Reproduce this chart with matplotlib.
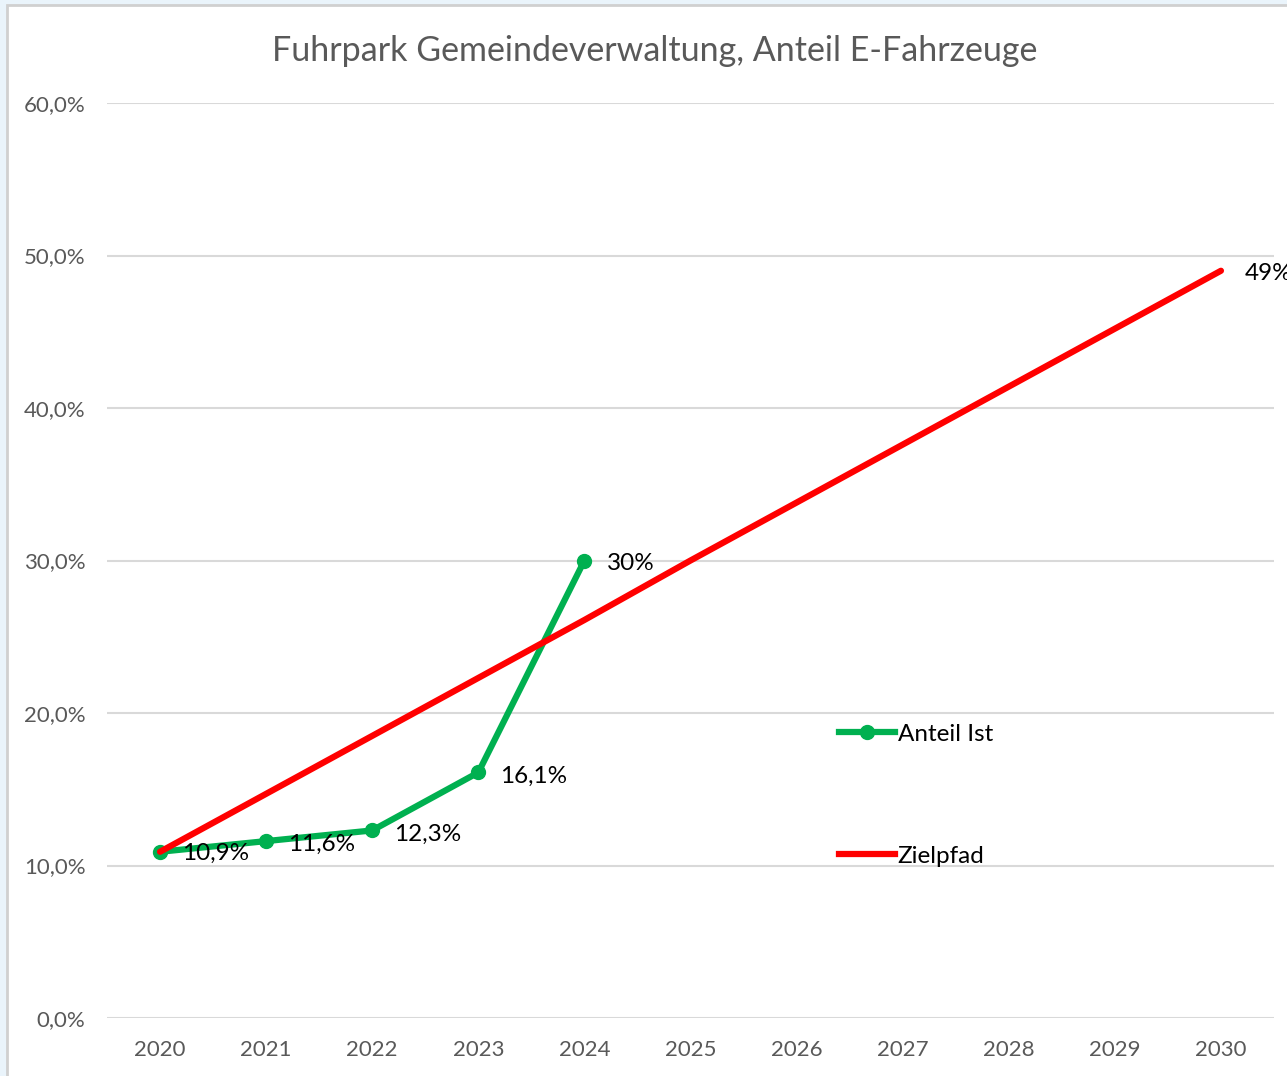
import matplotlib
matplotlib.use("Agg")
import matplotlib.pyplot as plt
from matplotlib.patches import Rectangle
from matplotlib.lines import Line2D

plt.rcParams['font.family'] = ['Lato', 'DejaVu Sans']

years = ["2020", "2021", "2022", "2023", "2024", "2025", "2026", "2027", "2028", "2029", "2030"]
ist_values = [10.9, 11.6, 12.3, 16.1, 30.0]
ist_labels = ["10,9%", "11,6%", "12,3%", "16,1%", "30%"]
ziel_values = [10.9, 14.7, 18.5, 22.3, 26.1, 30.0, 33.8, 37.6, 41.4, 45.2, 49.0]
ziel_end_label = "49%"
yticks = [0, 10, 20, 30, 40, 50, 60]
ytick_labels = ["0,0%", "10,0%", "20,0%", "30,0%", "40,0%", "50,0%", "60,0%"]
title = "Fuhrpark Gemeindeverwaltung, Anteil E-Fahrzeuge"

W, H = 1287, 1076
fig = plt.figure(figsize=(W / 100, H / 100), dpi=100, facecolor="#eaf4fb")
# chart area (white, with light border)
bg = Rectangle((7 / W, -0.1), 1.2, 1.1 - 5 / H, transform=fig.transFigure,
               facecolor="white", edgecolor="#d0d0d0", linewidth=2, zorder=-10)
fig.add_artist(bg)

ax = fig.add_axes([107 / W, 1 - 1018 / H, (1274 - 107) / W, (1018 - 103) / H])
ax.set_facecolor("none")
x_ist = list(range(len(ist_values)))
x_ziel = list(range(len(ziel_values)))

ax.plot(x_ist, ist_values, color="#00b050", lw=4.5, marker="o", ms=10,
        solid_capstyle="round", zorder=3, clip_on=False)
ax.plot(x_ziel, ziel_values, color="#ff0000", lw=4.5, solid_capstyle="round", zorder=4, clip_on=False)

for xi, v, lab in zip(x_ist, ist_values, ist_labels):
    dy = -1 if xi == 0 else -2.5
    ax.annotate(lab, (xi, v), xytext=(16, dy), textcoords="offset points",
                ha="left", va="center", fontsize=17.5, color="black", zorder=5)
ax.annotate(ziel_end_label, (x_ziel[-1], ziel_values[-1]), xytext=(17, -2), textcoords="offset points",
            ha="left", va="center", fontsize=17.5, color="black", annotation_clip=False)

ax.set_xlim(-0.5, len(years) - 0.5)
ax.set_ylim(0, 60)
ax.set_xticks(x_ziel)
ax.set_xticklabels(years)
ax.set_yticks(yticks)
ax.set_yticklabels(ytick_labels)
ax.tick_params(axis="both", length=0, labelsize=16, labelcolor="#595959")
ax.tick_params(axis="y", pad=15.5)
ax.tick_params(axis="x", pad=16)
for s in ax.spines.values():
    s.set_visible(False)
ax.grid(axis="y", color="#d9d9d9", lw=1.5)
ax.set_axisbelow(True)

fig.text(655 / W, 1 - 51 / H, title, ha="center", va="center", fontsize=24.5, color="#595959")

# legend entries
h1 = Line2D([], [], color="#00b050", lw=4.5, marker="o", ms=10)
h2 = Line2D([], [], color="#ff0000", lw=4.5)
leg = ax.legend([h1, h2], ["Anteil Ist", "Zielpfad"], loc="upper left",
                bbox_to_anchor=((829 - 107) / (1274 - 107), (1018 - 714) / (1018 - 103)),
                frameon=False, fontsize=17.5, labelspacing=4.15, handlelength=2.3,
                handletextpad=0.12, borderaxespad=0)

fig.savefig("out.png", dpi=100, facecolor=fig.get_facecolor())
